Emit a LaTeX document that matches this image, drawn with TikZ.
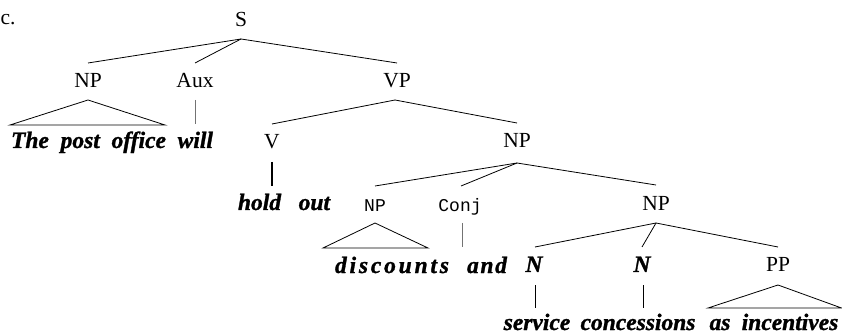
\documentclass[tikz,border=0pt]{standalone}
\usepackage{fontspec}
\setmainfont{Liberation Serif}
\newfontfamily\monof{Liberation Mono}
\newfontfamily\wordfont[FakeBold=1.2]{Liberation Serif Bold Italic}
\usetikzlibrary{calc}
\begin{document}
\begin{tikzpicture}[x=1pt,y=-1pt,
  lab/.style={anchor=base,inner sep=0pt,font=\fontsize{21.5}{24}\selectfont},
  mlab/.style={anchor=base,inner sep=0pt,font=\monof\fontsize{18}{22}\selectfont},
  word/.style={anchor=base,inner sep=0pt,font=\wordfont\fontsize{23.5}{26}\selectfont},
  spaced/.style={font=\wordfont\fontsize{23.5}{26}\selectfont\addfontfeature{LetterSpace=12}},
  lspaced/.style={font=\wordfont\fontsize{23.5}{26}\selectfont\addfontfeature{LetterSpace=7}},
  edge/.style={line width=0.8pt, black},
  thinedge/.style={line width=0.6pt, black!55},
  thickedge/.style={line width=1.5pt, black}]
\useasboundingbox (0,0) rectangle (842,336);
% labels
\node[lab,anchor=base west] (c) at (0.5,25) {c.};
\node[lab] (S) at (241,27) {S};
\node[lab] (NPa) at (88,88) {NP};
\node[lab] (Aux) at (195,88) {Aux};
\node[lab] (VP) at (397,88) {VP};
\node[word] (w1) at (112,148) {The\hspace{0.5em}post\hspace{0.5em}office\hspace{0.5em}will};
\node[lab] (V) at (272,149) {V};
\node[lab] (NPb) at (517,148) {NP};
\node[word] (w2) at (284,210) {hold\hspace{0.75em}out};
\node[mlab] (NPc) at (375,212) {NP};
\node[mlab] (Conj) at (460,212) {Conj};
\node[lab] (NPd) at (656,211) {NP};
\node[word,spaced] (w3) at (392,273) {discounts};
\node[word,lspaced] (w4) at (487,273) {and};
\node[word] (N1) at (534,272) {N};
\node[word] (N2) at (642,272) {N};
\node[lab] (PP) at (778,272) {PP};
\node[word] (w5) at (537,330) {service};
\node[word] (w6) at (638,330) {concessions};
\node[word] (w7) at (720,330) {as};
\node[word] (w8) at (790,330) {incentives};
% S
\draw[edge] ($(S.base)+(0,12)$) -- ($(NPa.base)+(0,-25)$);
\draw[edge] ($(S.base)+(0,12)$) -- ($(Aux.base)+(0,-25)$);
\draw[edge] ($(S.base)+(0,12)$) -- ($(VP.base)+(0,-25)$);
% NP triangle
\draw[edge] ($(w1.base)+(-102,-23)$) -- ($(NPa.base)+(0,12)$) -- ($(w1.base)+(53,-23)$) -- cycle;
% Aux
\draw[thinedge] ($(Aux.base)+(0,12)$) -- ($(w1.base)+(83,-24)$);
% VP
\draw[edge] ($(VP.base)+(-2,12)$) -- ($(V.base)+(0,-25)$);
\draw[edge] ($(VP.base)+(-2,12)$) -- ($(NPb.base)+(0,-25)$);
% V
\draw[thickedge] ($(V.base)+(0,13)$) -- ($(w2.base)+(-12,-24)$);
% NP (object)
\draw[edge] ($(NPb.base)+(0,15)$) -- ($(NPc.base)+(0,-26)$);
\draw[edge] ($(NPb.base)+(0,15)$) -- ($(Conj.base)+(1,-26)$);
\draw[edge] ($(NPb.base)+(0,15)$) -- ($(NPd.base)+(0,-26)$);
% NP triangle (discounts)
\draw[edge] ($(w3.base)+(-69,-25)$) -- ($(NPc.base)+(0,11)$) -- ($(w3.base)+(36,-25)$) -- cycle;
% Conj
\draw[thinedge] ($(Conj.base)+(2,11)$) -- ($(w4.base)+(-25,-26)$);
% NP (service ...)
\draw[edge] ($(NPd.base)+(0,12)$) -- ($(N1.base)+(1,-25)$);
\draw[edge] ($(NPd.base)+(0,12)$) -- ($(N2.base)+(0,-25)$);
\draw[edge] ($(NPd.base)+(0,12)$) -- ($(PP.base)+(0,-25)$);
% N lines
\draw[edge] ($(N1.base)+(1,13)$) -- ($(w5.base)+(-2,-22)$);
\draw[edge] ($(N2.base)+(1,13)$) -- ($(w6.base)+(5,-22)$);
% PP triangle
\draw[edge] ($(w7.base)+(-12,-22)$) -- ($(PP.base)+(0,13)$) -- ($(w8.base)+(51.5,-22)$) -- cycle;
\end{tikzpicture}
\end{document}
